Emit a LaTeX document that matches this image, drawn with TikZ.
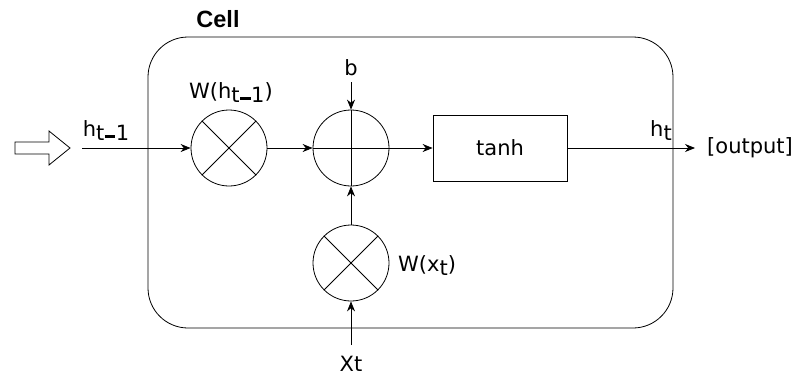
\documentclass[tikz,border=0pt]{standalone}
\usepackage{fontspec}
\setmainfont{DejaVu Sans}
\newfontfamily\cellfont{Liberation Sans}
\usetikzlibrary{arrows.meta}
\begin{document}
\begin{tikzpicture}[x=1pt,y=-1pt,
  every node/.style={font=\fontsize{21}{24}\selectfont, inner sep=0pt},
  conn/.style={draw, line width=0.8pt, -{Stealth[length=10pt,width=8pt]}},
  op/.style={draw, circle, line width=0.8pt, minimum size=76pt}]
\useasboundingbox (0,0) rectangle (792,378);
% cell
\draw[line width=0.8pt, rounded corners=40pt] (148,37) rectangle (673,328);
\node[font=\cellfont\bfseries\fontsize{23.5}{26}\selectfont] (cell) at (218,19) {Cell};
% hollow arrow
\draw[line width=0.8pt] (15,142) -- (49,142) -- (49,131) -- (70,148) -- (49,165) -- (49,154) -- (15,154) -- cycle;
\coordinate (hin) at (82,148);
% operators
\node[op] (m1) at (229,148) {};
\draw[line width=0.8pt] (m1.north west) -- (m1.south east) (m1.north east) -- (m1.south west);
\node[op] (add) at (351,148) {};
\draw[line width=0.8pt] (add.north) -- (add.south) (add.west) -- (add.east);
\node[op] (m2) at (351,263) {};
\draw[line width=0.8pt] (m2.north west) -- (m2.south east) (m2.north east) -- (m2.south west);
\node[draw, line width=0.8pt, minimum width=134pt, minimum height=66pt] (tanh) at (500,148) {tanh};
% labels
\node (lh) at (106,131) {h\raisebox{-0.35ex}{t\kern0.5pt\rule[0.3ex]{0.5em}{0.12em}\kern0.5pt 1}};
\node (lw1) at (231,93) {W(h\raisebox{-0.35ex}{t\kern0.5pt\rule[0.3ex]{0.5em}{0.12em}\kern0.5pt 1})};
\node (lb) at (351,68) {b};
\coordinate (bt) at (351,82);
\node[anchor=west] (lw2) at (398,266) {W(x\raisebox{-0.35ex}{t})};
\node (lx) at (351,364) {Xt};
\coordinate (xb) at (351,345);
\node (lht) at (661,131) {h\raisebox{-0.35ex}{t}};
\node[anchor=west] (out) at (707,148) {[output]};
% connectors
\draw[conn] (hin) -- (m1);
\draw[conn] (m1) -- (add);
\draw[conn] (bt) -- (add);
\draw[conn] (add) -- (tanh);
\draw[conn] (m2) -- (add);
\draw[conn] (xb) -- (m2);
\draw[conn] (tanh) -- ([xshift=-12pt]out.west);
\end{tikzpicture}
\end{document}
